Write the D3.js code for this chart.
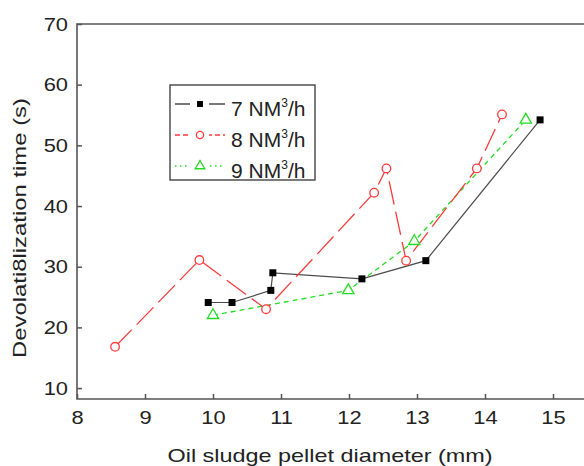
<!DOCTYPE html>
<html lang="en">
<head>
<meta charset="UTF-8">
<title>Devolatilization time vs pellet diameter</title>
<script src="https://d3js.org/d3.v7.min.js"></script>
<style>
  body { margin: 0; background: #fff; font-family: Arial, "Liberation Sans", sans-serif; }
  svg { display: block; }
</style>
</head>
<body>
<svg id="chart" width="584" height="466"></svg>
<script>
// data
const flow7x = [9.93, 10.28, 10.85, 10.88, 12.19, 13.13, 14.81];
const flow7y = [24.1, 24.1, 26.1, 29.0, 28.0, 31.0, 54.2];
const flow8x = [8.56, 9.8, 10.78, 12.37, 12.55, 12.84, 13.88, 14.25];
const flow8y = [16.8, 31.1, 23.0, 42.2, 46.2, 31.0, 46.2, 55.1];
const flow9x = [10.0, 11.99, 12.96, 14.6];
const flow9y = [22.0, 26.1, 34.2, 54.2];
const xTicks = [8, 9, 10, 11, 12, 13, 14, 15];
const yTicks = [10, 20, 30, 40, 50, 60, 70];
const seriesNames = ["7 NM", "8 NM", "9 NM"];

const svg = d3.select("#chart");
const plotLeft = 77, plotTop = 24, plotBottom = 399;

const x = d3.scaleLinear().domain([8, 15.6]).range([plotLeft, plotLeft + 68 * 7.6]);
const y = d3.scaleLinear().domain([8.2, 70]).range([plotBottom, plotTop]);

// the original figure is stretched sideways a little, text too
function stretch(sel, k) {
  sel.each(function () {
    const w = this.getComputedTextLength();
    d3.select(this).attr("textLength", w * k).attr("lengthAdjust", "spacingAndGlyphs");
  });
}

// frame (right side runs off the picture)
svg.append("path")
  .attr("d", `M${x(15.6)},${plotTop} H${plotLeft} V${plotBottom} H${x(15.6)}`)
  .attr("fill", "none").attr("stroke", "#555").attr("stroke-width", 1.6);

// axes with inward ticks
const xAxis = svg.append("g")
  .attr("transform", `translate(0,${plotBottom})`)
  .call(d3.axisBottom(x).tickValues(xTicks).tickSizeInner(-5).tickSizeOuter(0).tickPadding(12));
const yAxis = svg.append("g")
  .attr("transform", `translate(${plotLeft},0)`)
  .call(d3.axisLeft(y).tickValues(yTicks).tickSizeInner(-5).tickSizeOuter(0).tickPadding(9));
[xAxis, yAxis].forEach(g => {
  g.select(".domain").remove();
  g.selectAll("line").attr("stroke", "#555").attr("stroke-width", 1.5);
  g.selectAll("text").attr("font-size", 19).attr("fill", "#222")
    .attr("font-family", "Arial, 'Liberation Sans', sans-serif");
  stretch(g.selectAll("text"), 1.15);
});

// axis titles
svg.append("text")
  .attr("x", 330).attr("y", 462)
  .attr("text-anchor", "middle").attr("font-size", 19).attr("fill", "#222")
  .attr("textLength", 325).attr("lengthAdjust", "spacingAndGlyphs")
  .text("Oil sludge pellet diameter (mm)");
svg.append("text")
  .attr("transform", `translate(26,228) rotate(-90)`)
  .attr("text-anchor", "middle").attr("font-size", 18).attr("fill", "#222")
  .attr("textLength", 260).attr("lengthAdjust", "spacingAndGlyphs")
  .text("Devolati8lization time (s)");

const series = [
  { xs: flow7x, ys: flow7y, color: "#4a4a4a", mark: "#000", dash: null, legendDash: null, marker: "square" },
  { xs: flow8x, ys: flow8y, color: "#ff3b3b", mark: "#ff3b3b", dash: "24,7", legendDash: "5,3", marker: "circle" },
  { xs: flow9x, ys: flow9y, color: "#22dd22", mark: "#22dd22", dash: "5,4", legendDash: "1.5,3.5", marker: "triangle" }
];

const line = d3.line().x(d => x(d[0])).y(d => y(d[1]));

function drawMarker(g, type, cx, cy, color, k) {
  if (type === "square") {
    const s = 7 * k;
    g.append("rect").attr("x", cx - s / 2).attr("y", cy - s / 2)
      .attr("width", s).attr("height", s).attr("fill", "#000");
  } else if (type === "circle") {
    g.append("circle").attr("cx", cx).attr("cy", cy).attr("r", 4.3 * k)
      .attr("fill", "#fff").attr("stroke", color).attr("stroke-width", 1.3);
  } else {
    g.append("path")
      .attr("d", d3.symbol().type(d3.symbolTriangle).size(55 * k * k)())
      .attr("transform", `translate(${cx},${cy})`)
      .attr("fill", "#fff").attr("stroke", color).attr("stroke-width", 1.3);
  }
}

// green under black under red
[2, 0, 1].forEach(i => {
  const s = series[i];
  const pts = s.xs.map((v, j) => [v, s.ys[j]]);
  svg.append("path")
    .attr("d", line(pts))
    .attr("fill", "none").attr("stroke", s.color)
    .attr("stroke-width", i === 0 ? 1.2 : 1.3)
    .attr("stroke-dasharray", s.dash);
});
[2, 0, 1].forEach(i => {
  const s = series[i];
  const g = svg.append("g");
  s.xs.forEach((v, j) => drawMarker(g, s.marker, x(v), y(s.ys[j]), s.mark, 1));
});

// legend
const lg = svg.append("g");
lg.append("rect").attr("x", 170).attr("y", 85).attr("width", 145).attr("height", 95)
  .attr("fill", "#fff").attr("stroke", "#444").attr("stroke-width", 1.4);
const rowY = [104, 135, 166];
series.forEach((s, i) => {
  const ry = rowY[i];
  lg.append("line").attr("x1", 175).attr("x2", 225).attr("y1", ry).attr("y2", ry)
    .attr("stroke", s.color).attr("stroke-width", 1.3)
    .attr("stroke-dasharray", s.legendDash);
  // gap around the key marker
  lg.append("line").attr("x1", 190).attr("x2", 209).attr("y1", ry).attr("y2", ry)
    .attr("stroke", "#fff").attr("stroke-width", 3);
  drawMarker(lg, s.marker, 200, ry, s.mark, 0.85);
  const t = lg.append("text").attr("x", 231).attr("y", ry + 12)
    .attr("font-size", 21).attr("fill", "#222");
  t.append("tspan").text(seriesNames[i]);
  t.append("tspan").attr("font-size", 12).attr("dy", -9).text("3");
  t.append("tspan").attr("dy", 9).text("/h");
});
</script>
</body>
</html>
